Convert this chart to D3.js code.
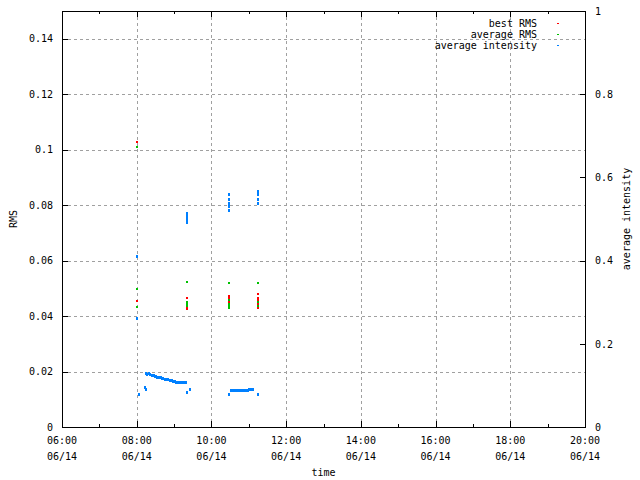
<!DOCTYPE html>
<html>
<head>
<meta charset="utf-8">
<script src="https://cdn.jsdelivr.net/npm/d3@7"></script>
<style>
  body { margin: 0; background: #fff; }
  svg { display: block; font-family: "DejaVu Sans Mono", monospace; font-size: 10px; }
</style>
</head>
<body>
<div id="chart"></div>
<script>
var width = 640;
var height = 480;

// tick values
var rmsTicks = [0, 0.02, 0.04, 0.06, 0.08, 0.1, 0.12, 0.14];
var intTicks = [0, 0.2, 0.4, 0.6, 0.8, 1];
var timeTicks = ["06:00", "08:00", "10:00", "12:00", "14:00", "16:00", "18:00", "20:00"];
var minorTicks = ["07:00", "09:00", "11:00", "13:00", "15:00", "17:00", "19:00"];
var dayLabel = "06/14";

// best RMS (left axis)
var bestRms = [
  ["08:00", 0.1029], ["08:00", 0.0453],
  ["09:20", 0.0464], ["09:20", 0.0429], ["09:20", 0.0424],
  ["10:29", 0.0471], ["10:29", 0.0466], ["10:29", 0.0450],
  ["11:14", 0.0478], ["11:14", 0.0464], ["11:14", 0.0458], ["11:14", 0.0442], ["11:14", 0.0428]
];

// average RMS (left axis)
var avgRms = [
  ["08:00", 0.1011], ["08:01", 0.0497], ["08:00", 0.0433],
  ["09:20", 0.0522], ["09:20", 0.0450], ["09:20", 0.0444], ["09:20", 0.0440], ["09:20", 0.0434],
  ["10:29", 0.0518], ["10:29", 0.0458], ["10:29", 0.0442], ["10:29", 0.0435], ["10:28", 0.0428], ["10:29", 0.0428],
  ["11:14", 0.0518], ["11:14", 0.0453], ["11:14", 0.0447], ["11:14", 0.0436]
];

// average intensity (right axis)
var avgIntensity = [
  ["08:00", 0.409], ["08:01", 0.260], ["08:03", 0.077],
  ["08:14", 0.094], ["08:15", 0.091],
  ["08:15", 0.128], ["08:17", 0.127], ["08:19", 0.128], ["08:21", 0.126], ["08:22", 0.127],
  ["08:24", 0.124], ["08:26", 0.124], ["08:27", 0.125], ["08:29", 0.122], ["08:31", 0.121],
  ["08:33", 0.120], ["08:35", 0.119], ["08:37", 0.118], ["08:39", 0.118], ["08:41", 0.117],
  ["08:43", 0.116], ["08:45", 0.115], ["08:47", 0.114], ["08:49", 0.114], ["08:51", 0.113],
  ["08:53", 0.112], ["08:55", 0.111], ["08:57", 0.111], ["08:59", 0.110], ["09:01", 0.109],
  ["09:03", 0.108], ["09:05", 0.108], ["09:07", 0.107], ["09:09", 0.107], ["09:11", 0.106],
  ["09:13", 0.106], ["09:15", 0.106], ["09:17", 0.106], ["09:19", 0.106],
  ["09:21", 0.082], ["09:26", 0.089],
  ["09:20", 0.514], ["09:20", 0.511], ["09:20", 0.508], ["09:20", 0.505], ["09:20", 0.502],
  ["09:20", 0.497], ["09:20", 0.492],
  ["10:29", 0.558], ["10:29", 0.548], ["10:29", 0.538], ["10:29", 0.531], ["10:29", 0.521],
  ["10:29", 0.079],
  ["10:32", 0.087], ["10:34", 0.087], ["10:36", 0.087], ["10:38", 0.087], ["10:40", 0.087],
  ["10:42", 0.087], ["10:44", 0.087], ["10:46", 0.087], ["10:48", 0.087], ["10:50", 0.087],
  ["10:52", 0.087], ["10:54", 0.087], ["10:56", 0.087], ["10:58", 0.088], ["11:00", 0.090],
  ["11:02", 0.089], ["11:04", 0.090], ["11:06", 0.090],
  ["11:14", 0.565], ["11:14", 0.560], ["11:14", 0.548], ["11:14", 0.538], ["11:14", 0.079]
];

var margin = {top: 11, right: 55, bottom: 53, left: 62};
var innerW = width - margin.left - margin.right;
var innerH = height - margin.top - margin.bottom;

var parseTime = d3.timeParse("%H:%M");

var x = d3.scaleTime()
    .domain([parseTime("06:00"), parseTime("20:00")])
    .range([0, innerW]);
var y = d3.scaleLinear().domain([0, 0.15]).range([innerH, 0]);
var y2 = d3.scaleLinear().domain([0, 1]).range([innerH, 0]);

var svg = d3.select("#chart").append("svg")
    .attr("width", width)
    .attr("height", height);

var g = svg.append("g")
    .attr("transform", "translate(" + margin.left + "," + margin.top + ")");

// grid
var grid = g.append("g")
    .attr("stroke", "#a0a0a0")
    .attr("stroke-dasharray", "3,3")
    .attr("shape-rendering", "crispEdges");
grid.selectAll(".gy").data(rmsTicks.slice(1)).enter().append("line")
    .attr("x1", 0).attr("x2", innerW)
    .attr("y1", d => Math.round(y(d)) + 0.5).attr("y2", d => Math.round(y(d)) + 0.5);
grid.selectAll(".gx").data(timeTicks.slice(1, -1)).enter().append("line")
    .attr("y1", 0).attr("y2", innerH)
    .attr("x1", d => Math.round(x(parseTime(d))) + 0.5).attr("x2", d => Math.round(x(parseTime(d))) + 0.5);

// axes (ticks inward)
g.append("g")
    .call(d3.axisLeft(y).tickValues(rmsTicks).tickSize(-6).tickPadding(9).tickFormat(d3.format("~g")));
g.append("g")
    .attr("transform", "translate(" + innerW + ",0)")
    .call(d3.axisRight(y2).tickValues(intTicks).tickSize(-5).tickPadding(10).tickFormat(d3.format("~g")));
g.append("g")
    .attr("transform", "translate(0," + innerH + ")")
    .call(d3.axisBottom(x).tickValues(timeTicks.map(parseTime)).tickSize(-6).tickFormat(""));
g.append("g")
    .call(d3.axisTop(x).tickValues(timeTicks.map(parseTime)).tickSize(-6).tickFormat(""));
g.append("g")
    .attr("transform", "translate(0," + innerH + ")")
    .call(d3.axisBottom(x).tickValues(minorTicks.map(parseTime)).tickSize(-3).tickFormat(""));
g.append("g")
    .call(d3.axisTop(x).tickValues(minorTicks.map(parseTime)).tickSize(-3).tickFormat(""));

g.selectAll(".domain").remove();
g.selectAll(".tick line").attr("stroke", "#000").attr("shape-rendering", "crispEdges");
g.selectAll(".tick text")
    .attr("fill", "#000")
    .style("font-family", "DejaVu Sans Mono, monospace")
    .style("font-size", "10px");

// two line time labels
var tl = g.append("g").attr("text-anchor", "middle").attr("fill", "#000");
tl.selectAll(".t1").data(timeTicks).enter().append("text")
    .attr("x", d => x(parseTime(d)))
    .attr("y", innerH + 17)
    .text(d => d);
tl.selectAll(".t2").data(timeTicks).enter().append("text")
    .attr("x", d => x(parseTime(d)))
    .attr("y", innerH + 33)
    .text(dayLabel);

// border
g.append("rect")
    .attr("x", 0.5).attr("y", 0.5)
    .attr("width", innerW).attr("height", innerH)
    .attr("fill", "none").attr("stroke", "#000")
    .attr("shape-rendering", "crispEdges");

// points
function drawDots(data, scale, color, w, h) {
    g.append("g").selectAll("rect").data(data).enter().append("rect")
        .attr("x", d => Math.round(x(parseTime(d[0])) - w / 2))
        .attr("y", d => Math.round(scale(d[1]) - h / 2))
        .attr("width", w).attr("height", h)
        .attr("fill", color)
        .attr("shape-rendering", "crispEdges");
}
drawDots(avgIntensity, y2, "#0080ff", 2, 3);
drawDots(avgRms, y, "#00c000", 2, 2);
drawDots(bestRms, y, "#ff0000", 2, 2);

// axis titles
svg.append("text")
    .attr("x", margin.left + innerW / 2).attr("y", 476)
    .attr("text-anchor", "middle")
    .text("time");
svg.append("text")
    .attr("transform", "translate(17," + (margin.top + innerH / 2) + ") rotate(-90)")
    .attr("text-anchor", "middle")
    .text("RMS");
svg.append("text")
    .attr("transform", "translate(630," + (margin.top + innerH / 2) + ") rotate(-90)")
    .attr("text-anchor", "middle")
    .text("average intensity");

// legend
var legendItems = ["best RMS", "average RMS", "average intensity"];
var legendColors = ["#ff0000", "#00c000", "#0080ff"];
var legend = svg.append("g");
legend.selectAll("text").data(legendItems).enter().append("text")
    .attr("x", 537)
    .attr("y", (d, i) => 27 + i * 11)
    .attr("text-anchor", "end")
    .text(d => d);
legend.selectAll("rect").data(legendColors).enter().append("rect")
    .attr("x", 557)
    .attr("y", (d, i) => 23 + i * 11)
    .attr("width", 2).attr("height", 1)
    .attr("fill", d => d);
</script>
</body>
</html>
